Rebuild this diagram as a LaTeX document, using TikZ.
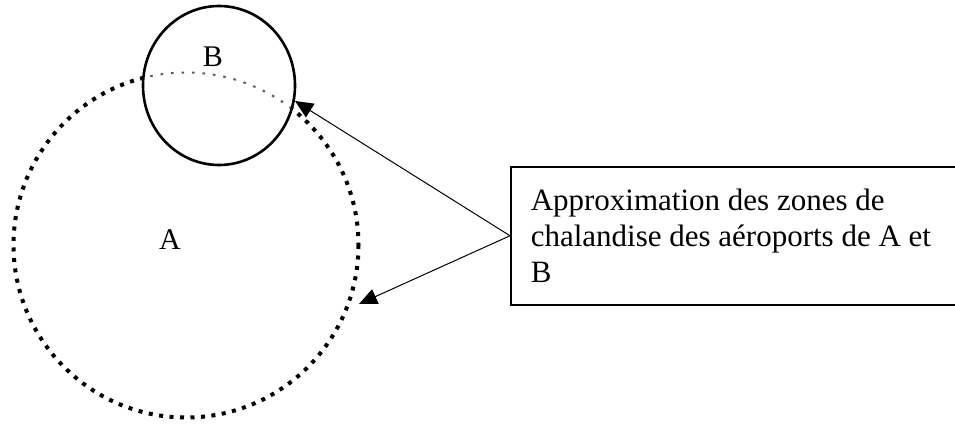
\documentclass[tikz,border=0pt]{standalone}
\usepackage{fontspec}
\setmainfont{Liberation Serif}
\usetikzlibrary{arrows.meta}

\tikzset{
  zoneA/.style={line width=4pt, dash pattern=on 4pt off 6.5pt},
  zoneAin/.style={line width=2pt, black!65, dash pattern=on 2.5pt off 8pt},
  zoneB/.style={line width=2.6pt},
  zonelabel/.style={font=\fontsize{30}{36}\selectfont, inner sep=0pt},
  notebox/.style={draw, line width=1.5pt, align=flush left, text width=420pt,
    inner xsep=20pt, minimum height=138pt, anchor=north west,
    font=\fontsize{31}{36}\selectfont},
  pointer/.style={line width=1pt, -{Triangle[length=18pt,width=16pt]}}
}

\begin{document}
\begin{tikzpicture}[x=1pt,y=-1pt]
    \useasboundingbox (0,0) rectangle (955,423);
    \clip (0,0) rectangle (955,423);
    % Zone A
    \draw[zoneA] (186,245) circle[radius=172.5];
    % Zone B
    \fill[white] (219,85.5) ellipse[x radius=76, y radius=79.5];
    \begin{scope}
      \clip (219,85.5) ellipse[x radius=76, y radius=79.5];
      \draw[zoneAin] (186,245) circle[radius=172.5];
    \end{scope}
    \draw[zoneB] (219,85.5) ellipse[x radius=76, y radius=79.5];
    % Labels
    \node[zonelabel] (labA) at (170,240) {A};
    \node[zonelabel] (labB) at (213,57) {B};
    % Note
    \node[notebox] (note) at (510,166)
      {Approximation des zones de\\chalandise des aéroports de A et\\B};
    \coordinate (tipB) at (295,101);
    \coordinate (tipA) at (359,304);
    \draw[pointer] (note.west) -- (tipB);
    \draw[pointer] (note.west) -- (tipA);
\end{tikzpicture}
\end{document}
